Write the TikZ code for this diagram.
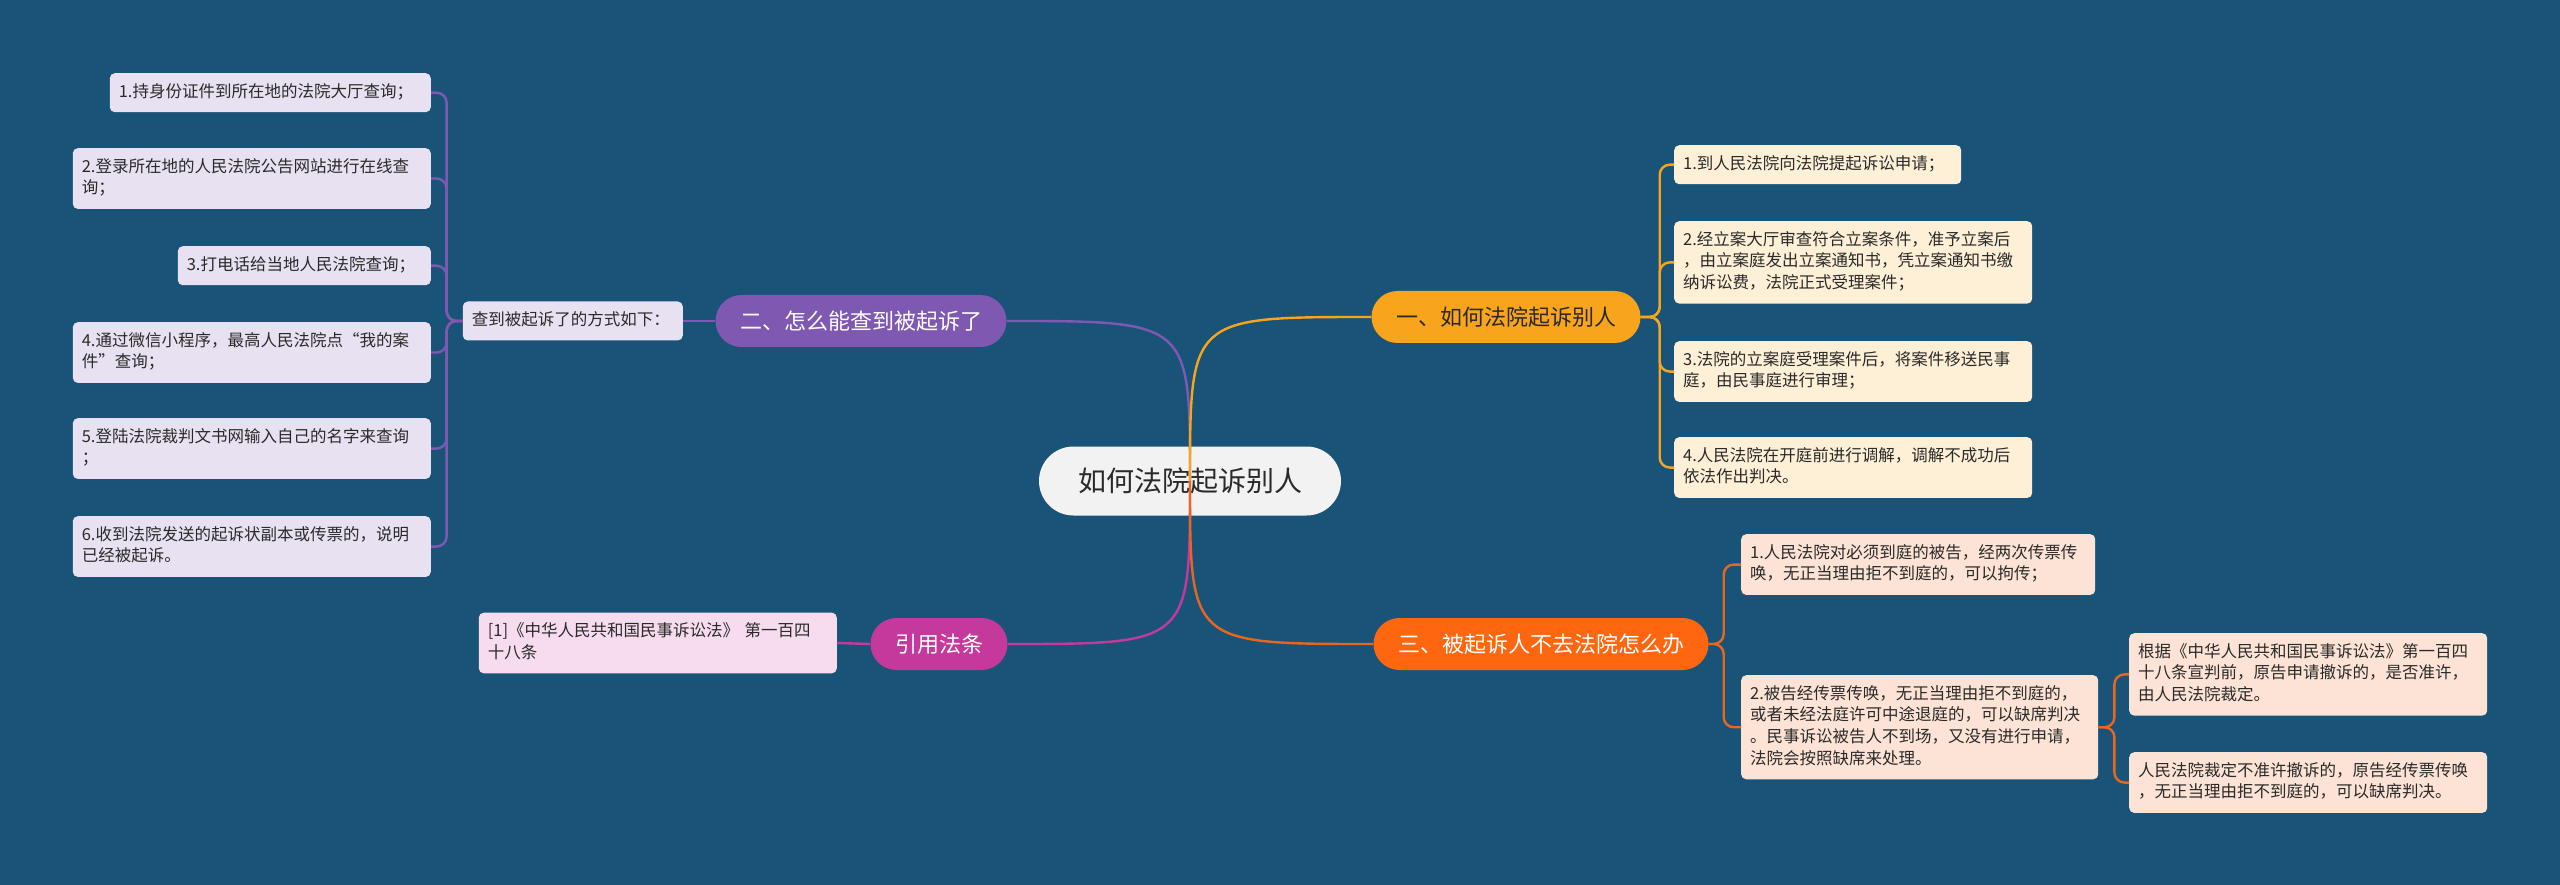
\documentclass[tikz,border=0pt]{standalone}
\usepackage{fontspec}
\setmainfont{Noto Sans CJK SC}
\usetikzlibrary{positioning}
\definecolor{deepsea}{HTML}{1A5378}
\definecolor{hubfill}{HTML}{F2F2F2}
\definecolor{inkdark}{HTML}{2A2A2A}
\definecolor{amber}{HTML}{F8A41C}
\definecolor{amberleaf}{HTML}{FDF0D6}
\definecolor{violet}{HTML}{7F58B2}
\definecolor{violetleaf}{HTML}{E8E1F1}
\definecolor{berry}{HTML}{C4399B}
\definecolor{berryleaf}{HTML}{F6DCEE}
\definecolor{flame}{HTML}{FF6610}
\definecolor{flamewire}{HTML}{E8671E}
\definecolor{flameleaf}{HTML}{FDE3D5}
\newcommand{\leafsize}{\fontsize{16.5}{21.7}\selectfont}
\tikzset{
  hub/.style   = {fill=hubfill, text=inkdark, rounded corners=34.5pt, minimum height=69pt,
                  inner xsep=39pt, font=\fontsize{28}{32}\selectfont},
  topic/.style = {rounded corners=26pt, minimum height=52pt, inner xsep=24.5pt,
                  text=white, font=\fontsize{22}{26}\selectfont},
  leaf/.style  = {rounded corners=5pt, inner xsep=9pt, inner ysep=8.65pt, text width=340pt,
                  align=left, text=inkdark, font=\leafsize,
                  execute at begin node=\strut, execute at end node=\strut},
  wire/.style  = {line width=2.4pt},
  bracket/.style = {wire, rounded corners=10pt},
}
\begin{document}
\begin{tikzpicture}[x=1pt,y=-1pt]
  \fill[deepsea] (0,0) rectangle (2560,885);
  \useasboundingbox (0,0) rectangle (2560,885);

  \node[hub] (hub) at (1190,481) {如何法院起诉别人};

  \node[topic,fill=amber,text=inkdark] (one) at (1506,317) {一、如何法院起诉别人};
  \node[topic,fill=violet] (two) at (861,321) {二、怎么能查到被起诉了};
  \node[topic,fill=flame] (three) at (1541,644) {三、被起诉人不去法院怎么办};
  \node[topic,fill=berry] (lawref) at (939,644) {引用法条};

  \node[leaf,fill=violetleaf,text width=202pt,anchor=east] (ways) at (683,321) {查到被起诉了的方式如下：};
  \node[leaf,fill=violetleaf,text width=303pt,anchor=north east] (q1) at (431,73) {1.持身份证件到所在地的法院大厅查询；};
  \node[leaf,fill=violetleaf,anchor=north east] (q2) at (431,148) {2.登录所在地的人民法院公告网站进行在线查\\询；};
  \node[leaf,fill=violetleaf,text width=235pt,anchor=north east] (q3) at (431,246) {3.打电话给当地人民法院查询；};
  \node[leaf,fill=violetleaf,anchor=north east] (q4) at (431,322) {4.通过微信小程序，最高人民法院点“我的案\\件”查询；};
  \node[leaf,fill=violetleaf,anchor=north east] (q5) at (431,418) {5.登陆法院裁判文书网输入自己的名字来查询\\；};
  \node[leaf,fill=violetleaf,anchor=north east] (q6) at (431,516) {6.收到法院发送的起诉状副本或传票的，说明\\已经被起诉。};

  \node[leaf,fill=amberleaf,text width=269pt,anchor=north west] (a1) at (1674,145) {1.到人民法院向法院提起诉讼申请；};
  \node[leaf,fill=amberleaf,anchor=north west] (a2) at (1674,221) {2.经立案大厅审查符合立案条件，准予立案后\\，由立案庭发出立案通知书，凭立案通知书缴\\纳诉讼费，法院正式受理案件；};
  \node[leaf,fill=amberleaf,anchor=north west] (a3) at (1674,341) {3.法院的立案庭受理案件后，将案件移送民事\\庭，由民事庭进行审理；};
  \node[leaf,fill=amberleaf,anchor=north west] (a4) at (1674,437) {4.人民法院在开庭前进行调解，调解不成功后\\依法作出判决。};

  \node[leaf,fill=flameleaf,text width=336pt,anchor=north west] (b1) at (1741,534) {1.人民法院对必须到庭的被告，经两次传票传\\唤，无正当理由拒不到庭的，可以拘传；};
  \node[leaf,fill=flameleaf,text width=339pt,anchor=north west] (b2) at (1741,675) {2.被告经传票传唤，无正当理由拒不到庭的，\\或者未经法庭许可中途退庭的，可以缺席判决\\。民事诉讼被告人不到场，又没有进行申请，\\法院会按照缺席来处理。};
  \node[leaf,fill=flameleaf,anchor=north west] (c1) at (2129,633) {根据《中华人民共和国民事诉讼法》第一百四\\十八条宣判前，原告申请撤诉的，是否准许，\\由人民法院裁定。};
  \node[leaf,fill=flameleaf,anchor=north west] (c2) at (2129,752) {人民法院裁定不准许撤诉的，原告经传票传唤\\，无正当理由拒不到庭的，可以缺席判决。};

  \node[leaf,fill=berryleaf,anchor=east] (article) at (837,643) {[1]《中华人民共和国民事诉讼法》~第一百四\\十八条};

  \coordinate (lb) at ([xshift=-16pt]ways.west);
  \coordinate (ob) at ([xshift=19pt]one.east);
  \coordinate (tb) at ([xshift=15pt]three.east);
  \coordinate (ub) at ([xshift=16pt]b2.east);

  \foreach \q in {q1,q2,q3,q4,q5,q6}
    \draw[bracket,violet] (ways.west) -- (lb) |- (\q.east);
  \foreach \a in {a1,a2,a3,a4}
    \draw[bracket,amber] (one.east) -- (ob) |- (\a.west);
  \foreach \b in {b1,b2}
    \draw[bracket,flamewire] (three.east) -- (tb) |- (\b.west);
  \foreach \c in {c1,c2}
    \draw[bracket,flamewire] (b2.east) -- (ub) |- (\c.west);
  \draw[wire,violet] (two.west) -- (ways.east);
  \draw[wire,berry] (lawref.west) -- (article.east);

  \draw[wire,violet] (hub.center) .. controls (hub.center |- two.east) .. (two.east);
  \draw[wire,amber] (hub.center) .. controls (hub.center |- one.west) .. (one.west);
  \draw[wire,berry] (hub.center) .. controls (hub.center |- lawref.east) .. (lawref.east);
  \draw[wire,flamewire] (hub.center) .. controls (hub.center |- three.west) .. (three.west);
\end{tikzpicture}
\end{document}
